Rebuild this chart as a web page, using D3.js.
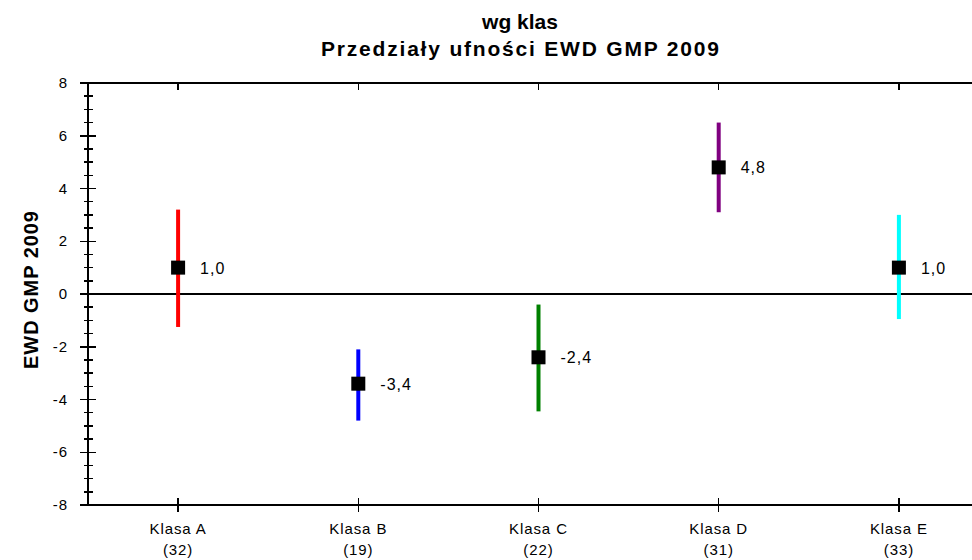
<!DOCTYPE html>
<html lang="pl">
<head>
	<meta charset="UTF-8">
	<title>Przedziały ufności EWD GMP 2009</title>
	<script src="https://cdn.jsdelivr.net/npm/d3@7"></script>
	<style>
		body {
			margin: 0;
			background: #ffffff;
		}
		svg text {
			font-family: "Liberation Sans", Arial, sans-serif;
			fill: #000;
		}
		.title {
			font-size: 21px;
			font-weight: bold;
		}
		.tick-label {
			font-size: 15px;
			letter-spacing: 0.9px;
		}
		.val-label {
			font-size: 16px;
			letter-spacing: 1px;
		}
	</style>
</head>
<body>
<script>
	var classes = ["Klasa A", "Klasa B", "Klasa C", "Klasa D", "Klasa E"];
	var counts = [32, 19, 22, 31, 33];
	var means = [1.0, -3.4, -2.4, 4.8, 1.0];
	var lower = [-1.25, -4.8, -4.45, 3.1, -0.95];
	var upper = [3.2, -2.1, -0.4, 6.5, 3.0];
	var colors = ["#ff0000", "#0000ff", "#008000", "#800080", "#00ffff"];
	var yTicks = [-8, -6, -4, -2, 0, 2, 4, 6, 8];

	var width = 972, height = 560;
	var plotLeft = 88, plotTop = 83, plotBottom = 505, plotRight = 989;

	var svg = d3.select("body").append("svg")
		.attr("width", width)
		.attr("height", height);

	var x = d3.scalePoint()
		.domain(classes)
		.range([plotLeft, plotRight])
		.padding(0.5);

	var y = d3.scaleLinear()
		.domain([-8, 8])
		.range([plotBottom, plotTop]);

	// title
	svg.append("text").attr("class", "title")
		.attr("x", 520).attr("y", 29)
		.attr("text-anchor", "middle")
		.text("wg klas");
	svg.append("text").attr("class", "title")
		.attr("x", 520).attr("y", 56)
		.attr("text-anchor", "middle")
		.attr("textLength", 398)
		.attr("lengthAdjust", "spacing")
		.text("Przedziały ufności EWD GMP 2009");

	// y axis label
	svg.append("text").attr("class", "title")
		.style("font-size", "20px")
		.attr("transform", "translate(38,290) rotate(-90)")
		.attr("text-anchor", "middle")
		.attr("textLength", 158)
		.attr("lengthAdjust", "spacing")
		.text("EWD GMP 2009");

	var axes = svg.append("g")
		.attr("stroke", "#000")
		.attr("stroke-width", 1.5)
		.attr("shape-rendering", "crispEdges");

	// frame lines
	axes.append("line").attr("x1", 80).attr("x2", width).attr("y1", plotTop).attr("y2", plotTop);
	axes.append("line").attr("x1", 80).attr("x2", width).attr("y1", plotBottom).attr("y2", plotBottom);
	axes.append("line").attr("x1", plotLeft).attr("x2", plotLeft).attr("y1", plotTop).attr("y2", plotBottom);
	axes.append("line").attr("x1", plotLeft).attr("x2", width).attr("y1", y(0)).attr("y2", y(0))
		.attr("stroke-width", 1.2);

	// minor ticks every 0.5
	var minor = d3.range(-8, 8.01, 0.5).filter(function (v) { return v % 2 !== 0; });
	axes.selectAll(".minor")
		.data(minor)
		.enter().append("line")
		.attr("x1", plotLeft - 4).attr("x2", plotLeft + 5)
		.attr("y1", function (d) { return y(d); })
		.attr("y2", function (d) { return y(d); });

	axes.selectAll(".major")
		.data(yTicks)
		.enter().append("line")
		.attr("x1", plotLeft - 8).attr("x2", plotLeft + 8)
		.attr("y1", function (d) { return y(d); })
		.attr("y2", function (d) { return y(d); });

	svg.selectAll(".ylab")
		.data(yTicks)
		.enter().append("text")
		.attr("class", "tick-label")
		.attr("x", 68)
		.attr("y", function (d) { return y(d) + 5; })
		.attr("text-anchor", "end")
		.text(function (d) { return d; });

	// category ticks top and bottom
	axes.selectAll(".ttop")
		.data(classes)
		.enter().append("line")
		.attr("x1", function (d) { return x(d); })
		.attr("x2", function (d) { return x(d); })
		.attr("y1", plotTop).attr("y2", plotTop + 7);

	axes.selectAll(".tbot")
		.data(classes)
		.enter().append("line")
		.attr("x1", function (d) { return x(d); })
		.attr("x2", function (d) { return x(d); })
		.attr("y1", plotBottom - 7).attr("y2", plotBottom + 7);

	var xl = svg.selectAll(".xlab")
		.data(classes)
		.enter().append("text")
		.attr("class", "tick-label")
		.attr("text-anchor", "middle");
	xl.append("tspan")
		.attr("x", function (d) { return x(d); })
		.attr("y", 534)
		.text(function (d) { return d; });
	xl.append("tspan")
		.attr("x", function (d) { return x(d); })
		.attr("y", 555)
		.text(function (d, i) { return "(" + counts[i] + ")"; });

	// confidence intervals
	svg.selectAll(".ci")
		.data(classes)
		.enter().append("line")
		.attr("x1", function (d) { return x(d); })
		.attr("x2", function (d) { return x(d); })
		.attr("y1", function (d, i) { return y(upper[i]); })
		.attr("y2", function (d, i) { return y(lower[i]); })
		.attr("stroke", function (d, i) { return colors[i]; })
		.attr("stroke-width", 4);

	svg.selectAll(".mean")
		.data(classes)
		.enter().append("rect")
		.attr("x", function (d) { return x(d) - 7; })
		.attr("y", function (d, i) { return y(means[i]) - 7; })
		.attr("width", 14)
		.attr("height", 14)
		.attr("fill", "#000");

	svg.selectAll(".val-label")
		.data(classes)
		.enter().append("text")
		.attr("class", "val-label")
		.attr("x", function (d) { return x(d) + 22; })
		.attr("y", function (d, i) { return y(means[i]) + 6; })
		.text(function (d, i) { return d3.format(".1f")(means[i]).replace(".", ",").replace("−", "-"); });
</script>
</body>
</html>
